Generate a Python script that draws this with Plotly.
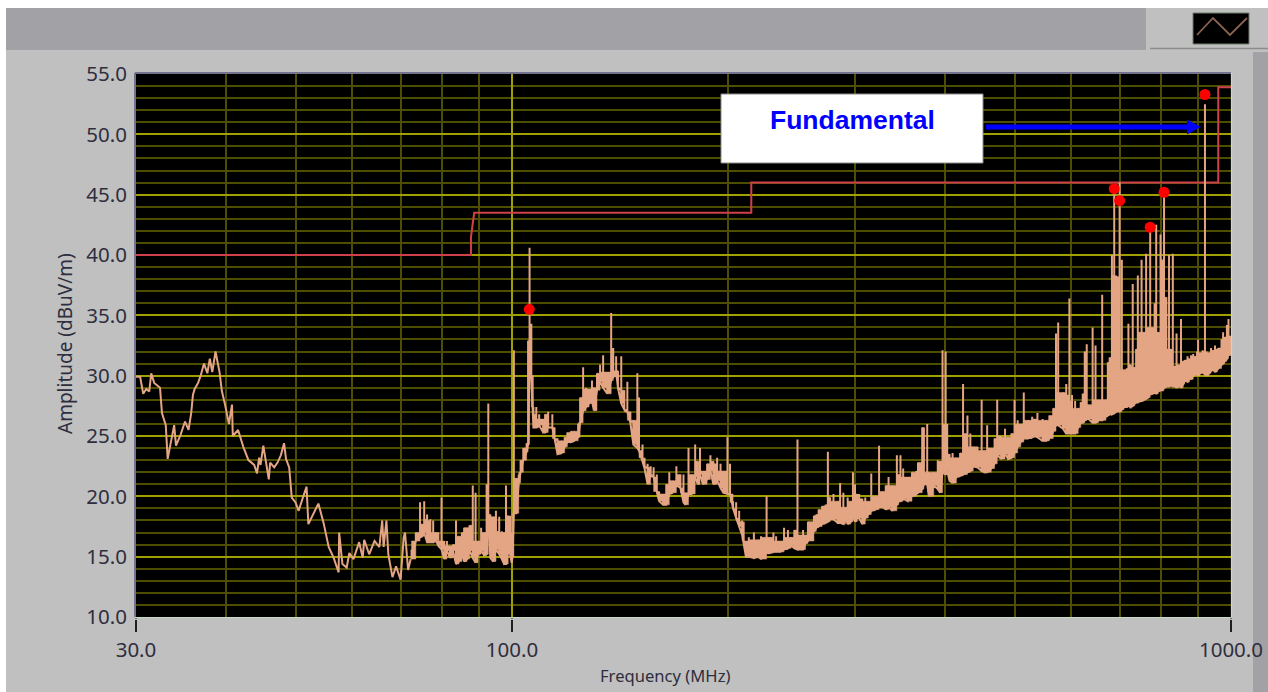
import plotly.graph_objects as go
import math

# ---- thin low-frequency part of the sweep (MHz, dBuV/m)
SWEEP_FREQ = [
 30.0,30.4,30.7,31.0,31.3,31.5,31.8,32.4,32.6,33.0,33.2,33.5,33.9,34.1,34.6,35.1,35.5,35.8,36.0,36.2,
 36.6,36.9,37.3,37.7,38.0,38.3,38.7,39.2,39.5,39.9,40.4,40.8,40.9,41.6,42.3,43.0,43.8,44.2,44.5,44.7,
 45.1,45.5,45.9,46.1,46.7,47.2,47.7,48.2,48.5,49.0,49.4,50.0,50.5,51.2,51.8,52.1,52.9,53.8,54.7,55.6,
 56.5,57.4,57.5,58.1,58.9,59.4,60.2,61.3,62.0,62.3,63.3,64.4,65.4,66.0,66.3,66.9,67.3,68.2,69.0,70.0,
 70.7,71.0,71.7,72.3]
SWEEP_AMP = [
 29.9,29.9,28.5,28.9,28.7,30.2,29.4,29.0,26.9,25.9,23.1,24.2,25.9,24.2,25.1,26.2,25.5,26.9,28.4,28.9,
 29.4,30.0,31.0,30.2,31.4,30.3,32.0,30.3,28.7,27.6,26.0,27.6,25.0,25.5,24.1,23.0,22.6,21.9,23.2,22.6,
 24.2,22.8,21.4,22.8,22.4,22.8,23.4,24.4,23.1,22.4,19.9,19.5,18.8,19.9,20.8,17.7,18.5,19.4,17.8,15.8,
 14.9,13.7,17.0,14.4,14.1,15.3,14.8,16.2,14.9,16.4,15.2,16.3,15.8,18.0,15.8,18.0,15.2,13.3,14.2,13.1,
 16.6,17.0,13.9,14.8]

# ---- noisy part of the sweep: per-frequency low and high of the trace
BAND_FREQ = [
 72.5,73.5,74.5,75.0,75.5,76.2,77.0,77.7,78.3,79.0,
 79.8,80.5,81.2,82.0,82.8,83.6,84.4,85.2,85.8,86.6,
 87.3,88.2,89.0,89.7,90.6,91.5,92.2,92.7,93.3,94.2,
 95.0,96.0,96.8,97.5,98.1,98.8,99.4,99.9,100.2,100.6,
 101.4,102.2,102.8,103.7,104.8,105.3,105.8,106.4,107.1,108.1,
 109.1,110.5,111.2,112.3,113.8,114.6,115.7,117.2,118.4,119.4,
 120.8,122,123.6,124.4,125.6,126.8,128,129.2,130,131.3,
 132.6,133.9,135.7,137.4,138.3,139.6,140.4,141.9,143.3,144.7,
 146.1,147.5,149.4,150.2,151.9,152.9,154.4,155.9,157.4,159,
 160.2,162.3,163.9,165.5,167.1,169.3,171.5,173.2,174.3,176,
 177.7,179.8,181.4,182.6,184.3,186.8,188.8,190.6,192.9,195,
 196.8,199.4,201,203,205,207,209,
 210,211.5,213.5,217,220,222,226,228,231,233,
 236,239,242,244.5,247,249.5,254,256,258,263,
 265,267,270,273,275,277,280,284,286,289,
 291,293,296,298,300,302,304,307,310,313,
 316,320,324,328,331,334,338,343,345,347,
 350,355,360,365,367,372,374,378,380,386,
 391,394,397,401,403,406,410,415,420,424,
 430,434,438,444,450,454,458,464,469,473,
 479,485,490,495,500,505,510,515,522,529,
 533,538,547,553,559,566,571,575,584,590,
 596,601,607,613,618,622,626,630,634,642,
 648,654,662,670,674,678,683,688,692,696,
 700,705,710,716,720,725,730,735,738,742,
 747,751,757,762,767,772,777,783,787,792,
 798,803,807,813,820,825,830,835,840,847,
 852,858,862,870,876,880,886,893,897,900,
 906,913,920,925,932,938,945,950,957,960,
 970,975,980,987,992,997,1000]
BAND_LOW = [
 14.8,16.3,16.6,16.7,17.0,16.2,16.2,16.2,16.4,15.9,
 15.6,14.8,15.5,14.9,15.5,14.4,14.6,15.2,14.6,14.8,
 15.5,14.9,14.5,15.2,15.5,15.1,15.2,18.5,14.9,14.6,
 15.6,15.2,14.8,14.4,14.4,15.5,15.2,14.5,15.0,18.6,
 18.6,21.1,22.0,23.0,23.7,24.3,30.4,30.0,25.7,25.7,
 25.9,25.3,25.3,25.7,25.7,24.8,23.5,23.6,24.1,24.5,
 24.5,24.6,24.9,26.1,27.1,27.4,27.7,27.9,27.1,28.8,
 29.5,29.0,28.5,29.6,29.9,30.3,29.0,27.7,27.2,27.0,
 26.1,24.3,24.0,23.8,22.9,22.3,21.0,21.7,21.6,20.4,
 19.6,19.3,19.3,20.2,20.3,20.9,20.7,19.5,19.3,20.2,
 20.2,21.6,21.0,21.8,21.0,21.4,22.1,21.0,21.3,20.7,
 20.3,20.2,20.2,19.0,18.2,17.5,16.8,
 16.1,15.0,15.0,14.9,15.0,14.8,15.3,15.3,15.4,15.4,
 15.4,15.6,15.7,15.9,15.7,15.6,15.6,16.1,16.3,17.1,
 17.4,17.5,17.7,17.8,17.9,18.1,18.1,17.8,17.8,17.7,
 18.2,17.7,17.9,18.4,17.9,18.2,18.2,17.7,18.2,18.5,
 18.8,18.9,19.1,19.1,18.9,19.1,18.8,19.3,19.6,19.6,
 19.8,19.6,20.0,20.2,20.3,20.6,21.0,21.0,20.0,20.9,
 20.6,20.3,22.0,21.8,22.1,21.3,21.1,21.6,21.7,21.8,
 22.0,22.1,22.5,22.4,22.1,22.0,22.0,22.3,22.7,23.4,
 23.1,23.5,23.1,23.2,23.6,24.1,24.5,24.8,24.8,24.9,
 25.0,24.9,24.6,24.6,24.8,25.4,25.9,25.9,25.6,25.2,
 25.2,25.2,25.2,25.7,26.1,26.1,26.3,26.4,26.4,26.1,
 26.1,26.3,26.3,26.6,26.7,26.8,26.8,26.9,27.0,27.1,
 27.0,27.2,27.4,27.4,27.5,27.4,27.5,27.7,27.8,27.8,
 27.9,27.9,28.0,28.1,28.2,28.5,28.5,28.6,28.5,28.7,
 28.8,28.8,29.0,29.1,29.1,29.2,29.1,29.1,29.0,29.2,
 29.0,29.3,29.6,29.5,29.8,29.7,30.0,30.1,30.2,30.0,
 30.2,30.3,30.1,30.0,30.2,30.4,30.5,30.3,30.5,30.6,
 30.9,31.0,31.2,31.4,31.8,31.7,31.9]
BAND_HIGH = [
 15.6,17.0,19.5,17.7,19.6,18.5,18.1,18.0,17.0,17.0,
 19.9,16.3,16.3,15.9,16.0,18.0,16.7,17.0,17.4,17.4,
 17.6,20.9,20.3,16.3,17.4,17.0,21.0,27.7,18.5,18.3,
 18.8,18.3,17.1,17.0,20.9,18.4,18.4,17.0,17.0,32.1,
 21.5,21.8,23.0,24.0,24.4,32.9,40.6,34.3,27.4,27.4,
 26.8,26.4,26.8,27.0,26.8,25.7,24.8,24.6,24.9,25.3,
 25.4,25.4,26.0,28.2,30.7,29.0,28.9,29.6,29.0,30.2,
 30.9,31.7,30.3,35.2,32.3,31.6,30.4,31.6,28.8,29.5,
 27.0,26.3,30.2,28.2,24.3,23.2,22.7,22.5,22.4,21.8,
 20.4,20.2,21.0,22.0,21.3,22.5,21.8,21.8,20.3,24.0,
 21.8,24.3,22.9,24.0,22.1,22.7,23.4,22.9,23.2,22.7,
 22.1,24.9,22.7,19.6,19.5,18.8,18.0,
 17.9,16.3,16.6,17.0,16.4,16.7,20.0,16.6,17.0,16.7,
 16.3,17.4,17.2,16.6,17.2,24.7,17.2,16.8,17.9,18.4,
 18.5,18.9,19.2,19.3,23.7,19.9,20.2,19.6,21.1,20.3,
 19.1,19.9,19.6,22.0,21.0,20.2,20.2,19.8,19.9,19.6,
 21.9,20.0,24.2,20.4,20.9,21.6,20.9,23.4,21.8,23.4,
 22.3,21.6,22.0,22.1,22.8,25.7,25.7,26.0,22.0,22.0,
 23.0,22.9,32.1,32.0,26.0,23.5,23.6,23.2,23.6,29.3,
 26.7,25.2,24.1,24.1,28.0,23.8,25.9,24.0,24.8,28.0,
 25.0,25.6,24.9,25.2,28.0,26.3,26.0,28.6,26.3,26.6,
 26.4,26.9,26.4,26.3,26.7,27.3,33.5,34.4,28.6,29.3,
 36.4,28.4,27.9,27.3,27.8,28.5,32.0,32.6,27.6,34.0,
 32.5,28.0,36.7,28.0,31.1,31.5,40.0,45.7,38.3,38.2,
 46.0,39.6,30.5,30.6,34.3,30.9,37.6,30.7,32.2,38.3,
 33.6,39.6,33.6,40.1,34.0,42.4,34.0,36.0,42.5,33.6,
 41.7,39.6,45.1,36.5,40.0,32.2,40.1,30.8,33.5,30.9,
 34.7,31.2,31.3,31.6,31.4,31.7,31.8,31.6,32.0,33.0,
 31.9,32.1,52.5,32.0,31.9,32.3,32.1,32.5,32.2,32.3,
 33.0,33.6,33.2,34.2,34.7,33.3,33.1]

LIMIT_FREQ = [30, 87.7, 87.7, 88.6, 215.2, 215.2, 960, 960, 1000]
LIMIT_AMP = [40, 40, 41.5, 43.5, 43.5, 46, 46, 53.9, 53.9]

PEAK_FREQ = [105.7, 688, 700, 772, 807, 920]
PEAK_AMP = [35.5, 45.5, 44.5, 42.3, 45.2, 53.3]

X_TICKS = [30, 100, 1000]
X_LABELS = ["30.0", "100.0", "1000.0"]
X_MINOR = [40, 50, 60, 70, 80, 90, 200, 300, 400, 500, 600, 700, 800, 900]

W, H = 1268, 692
L, R, T, B = 136, 1231, 74, 617
def px(v): return (v - L) / (R - L)
def py(v): return (B - v) / (B - T)

band_x, band_y = [], []
for f, lo, hi in zip(BAND_FREQ, BAND_LOW, BAND_HIGH):
    band_x += [f, f, f]
    band_y += [lo, hi, lo]

# solid body of the band: the part of each column that its neighbours also reach
n = len(BAND_FREQ)
body_top = [max(BAND_LOW[i], min(BAND_HIGH[max(i - 1, 0):min(i + 2, n)])) for i in range(n)]

TRACE = "#e3a583"
fig = go.Figure()
fig.add_trace(go.Scatter(x=LIMIT_FREQ, y=LIMIT_AMP, mode="lines", line=dict(color="#d0404a", width=2)))
fig.add_trace(go.Scatter(x=SWEEP_FREQ, y=SWEEP_AMP, mode="lines", line=dict(color=TRACE, width=2)))
fig.add_trace(go.Scatter(x=BAND_FREQ + BAND_FREQ[::-1], y=BAND_LOW + body_top[::-1], mode="lines",
                         fill="toself", fillcolor=TRACE, line=dict(color=TRACE, width=0.5, shape="hv")))
fig.add_trace(go.Scatter(x=band_x, y=band_y, mode="lines", line=dict(color=TRACE, width=2)))
fig.add_trace(go.Scatter(x=PEAK_FREQ, y=PEAK_AMP, mode="markers", marker=dict(color="#ff0000", size=11)))

def rect(x0, y0, x1, y1, fill, line=None, layer="below"):
    return dict(type="rect", xref="paper", yref="paper", x0=px(x0), x1=px(x1), y0=py(y0), y1=py(y1),
                fillcolor=fill, line=dict(color=line or fill, width=1 if line else 0), layer=layer)

def seg(x0, y0, x1, y1, color, width=1.5, layer="above"):
    return dict(type="line", xref="paper", yref="paper", x0=px(x0), x1=px(x1), y0=py(y0), y1=py(y1),
                line=dict(color=color, width=width), layer=layer)

def path(points, color=None, fill=None, width=1.5, close=False):
    d = "M" + " L".join(f"{px(a):.5f},{py(b):.5f}" for a, b in points) + (" Z" if close else "")
    return dict(type="path", xref="paper", yref="paper", path=d, layer="above",
                fillcolor=fill, line=dict(color=color or fill, width=width if color else 0))

shapes = [
    rect(0, 0, W, 8, "#ffffff"),
    rect(0, 0, 6, H, "#ffffff"),
    rect(6, 8, 1146, 50, "#a2a1a5"),
    rect(1253, 52, W, H, "#a2a1a5"),
    seg(1150, 48.5, W, 48.5, "#8c8c8c", 1.5, "below"),
    rect(1193, 13, 1249, 44, "#000000", "#6a7a6a", "above"),
    path([(1197, 35), (1213, 18), (1230, 35), (1247, 18)], color="#8a6450", width=1.8),
    seg(135, 73, 1231, 73, "#5a5a80", 1.5),
    seg(135, 73, 135, 617, "#5a5a80", 1.5),
    seg(135, 617.5, 1231, 617.5, "#c4dcc4", 1.2),
    seg(1231.5, 73, 1231.5, 617, "#c4dcc4", 1.2),
    rect(130, 618.5, 1245, 620, "#c0c0c0", None, "above"),
    rect(721, 94, 983, 163, "#ffffff", "#8a8a8a", "above"),
    seg(986, 127, 1190, 127, "#0000ff", 5),
    path([(1187, 119.5), (1201, 127), (1187, 134.5)], fill="#0000ff", close=True),
]

GRID_MAJOR = "#a0a000"
GRID_MINOR = "#4e4e00"
TXT = "#2e2e3e"
FONT = "Noto Sans"
fig.update_layout(
    width=W, height=H, autosize=False, showlegend=False,
    margin=dict(l=L, r=W - R, t=T, b=H - B, pad=0),
    paper_bgcolor="#c0c0c0", plot_bgcolor="#000000",
    shapes=shapes,
    annotations=[
        dict(text="<b>Fundamental</b>", xref="paper", yref="paper", x=px(852), y=py(120),
             showarrow=False, xanchor="center", yanchor="middle",
             font=dict(family="Liberation Sans", size=26.5, color="#0000ff")),
        dict(text="Frequency (MHz)", xref="paper", yref="paper", x=px(665), y=py(675),
             showarrow=False, xanchor="center", yanchor="middle",
             font=dict(family=FONT, size=16.6, color=TXT)),
        dict(text="Amplitude (dBuV/m)", xref="paper", yref="paper", x=px(65), y=py(344), textangle=-90,
             showarrow=False, xanchor="center", yanchor="middle",
             font=dict(family=FONT, size=19, color=TXT)),
    ],
    xaxis=dict(type="log", range=[math.log10(30), 3], tickmode="array", tickvals=X_TICKS, ticktext=X_LABELS,
               automargin=False,
               ticks="outside", ticklen=14, tickwidth=1.5, tickcolor="#202020",
               showgrid=True, gridcolor=GRID_MAJOR, gridwidth=1.5, zeroline=False,
               minor=dict(tickmode="array", tickvals=X_MINOR, showgrid=True, gridcolor=GRID_MINOR, gridwidth=1.5, ticks=""),
               tickfont=dict(family=FONT, size=20.5, color=TXT)),
    yaxis=dict(range=[10, 55], tickmode="linear", tick0=10, dtick=5, tickformat=".1f", ticks="",
               automargin=False, ticklabelstandoff=8,
               showgrid=True, gridcolor=GRID_MAJOR, gridwidth=1.5, zeroline=False,
               minor=dict(dtick=1, tick0=10, showgrid=True, gridcolor=GRID_MINOR, gridwidth=1.5, ticks=""),
               tickfont=dict(family=FONT, size=20.5, color=TXT)),
)

fig.write_html("out.html", config={"displayModeBar": False},
               post_script="document.body.style.margin='0';document.body.style.overflow='hidden';")
